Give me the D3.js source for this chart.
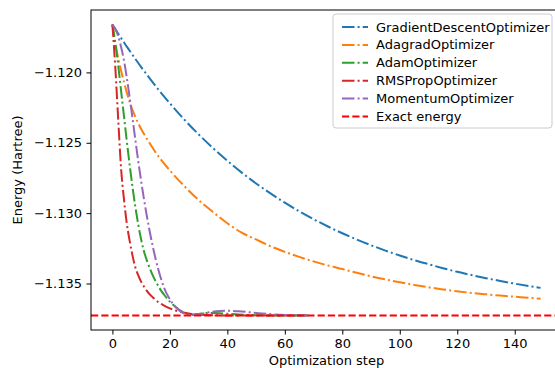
<!DOCTYPE html>
<html>
<head>
<meta charset="utf-8">
<script src="https://cdn.jsdelivr.net/npm/d3@7"></script>
<style>
  body { margin: 0; background: #fff; }
  text { font-family: "DejaVu Sans", sans-serif; }
</style>
</head>
<body>
<div id="chart"></div>
<script>
const slowSteps = [0, 1, 2, 3, 4, 5, 6, 8, 10, 12, 15, 20, 25, 30, 35, 40, 45, 50, 55, 60, 65, 70, 75, 80, 85, 90, 95, 100, 105, 110, 115, 120, 125, 130, 135, 140, 145, 149];
const fastSteps = [0, 1, 2, 3, 4, 5, 6, 7, 8, 9, 10, 11, 12, 13, 14, 15, 16, 17, 18, 20, 22, 24, 26, 28, 30, 33, 36, 40, 44, 48, 52, 56, 60, 64, 68];

const gdEnergy = [-1.11660, -1.11692, -1.11724, -1.11755, -1.11786, -1.11817, -1.11846, -1.11905, -1.11962, -1.12017, -1.12096, -1.12220, -1.12335, -1.12440, -1.12538, -1.12628, -1.12712, -1.12789, -1.12860, -1.12926, -1.12987, -1.13043, -1.13095, -1.13143, -1.13187, -1.13228, -1.13266, -1.13301, -1.13334, -1.13363, -1.13391, -1.13417, -1.13440, -1.13462, -1.13482, -1.13501, -1.13518, -1.13531];
const adagradEnergy = [-1.11660, -1.11792, -1.11897, -1.11987, -1.12067, -1.12142, -1.12212, -1.12317, -1.12402, -1.12472, -1.12567, -1.12697, -1.12807, -1.12907, -1.12992, -1.13072, -1.13139, -1.13187, -1.13235, -1.13275, -1.13311, -1.13343, -1.13372, -1.13397, -1.13424, -1.13449, -1.13471, -1.13491, -1.13510, -1.13527, -1.13542, -1.13555, -1.13567, -1.13577, -1.13586, -1.13594, -1.13602, -1.13608];
const adamEnergy = [-1.11660, -1.11787, -1.11947, -1.12127, -1.12307, -1.12487, -1.12657, -1.12817, -1.12957, -1.13082, -1.13187, -1.13272, -1.13337, -1.13392, -1.13440, -1.13482, -1.13519, -1.13552, -1.13580, -1.13629, -1.13667, -1.13697, -1.13715, -1.13721, -1.13717, -1.13709, -1.13709, -1.13715, -1.13721, -1.13724, -1.13726, -1.13727, -1.13727, -1.13727, -1.13727];
const rmspropEnergy = [-1.11660, -1.11962, -1.12327, -1.12677, -1.12897, -1.13072, -1.13197, -1.13302, -1.13387, -1.13442, -1.13487, -1.13522, -1.13552, -1.13577, -1.13597, -1.13615, -1.13632, -1.13645, -1.13657, -1.13677, -1.13692, -1.13703, -1.13712, -1.13717, -1.13721, -1.13724, -1.13726, -1.13727, -1.13727, -1.13727, -1.13727, -1.13727, -1.13727, -1.13727, -1.13727];
const momentumEnergy = [-1.11660, -1.11692, -1.11742, -1.11817, -1.11912, -1.12037, -1.12177, -1.12327, -1.12482, -1.12632, -1.12772, -1.12902, -1.13022, -1.13132, -1.13232, -1.13322, -1.13402, -1.13472, -1.13532, -1.13612, -1.13667, -1.13702, -1.13720, -1.13724, -1.13719, -1.13707, -1.13697, -1.13694, -1.13697, -1.13705, -1.13713, -1.13719, -1.13723, -1.13725, -1.13726];
const exactEnergy = -1.13727;

const xTicks = [0, 20, 40, 60, 80, 100, 120, 140];
const yTicks = [-1.120, -1.125, -1.130, -1.135];

const series = [
  { name: 'GradientDescentOptimizer', steps: slowSteps, values: gdEnergy, color: '#1f77b4' },
  { name: 'AdagradOptimizer', steps: slowSteps, values: adagradEnergy, color: '#ff7f0e' },
  { name: 'AdamOptimizer', steps: fastSteps, values: adamEnergy, color: '#2ca02c' },
  { name: 'RMSPropOptimizer', steps: fastSteps, values: rmspropEnergy, color: '#d62728' },
  { name: 'MomentumOptimizer', steps: fastSteps, values: momentumEnergy, color: '#9467bd' }
];

const margin = { top: 10, left: 91 };
const width = 471, height = 320;
const dashDot = '12.5,3.1,2,3.1';
const dashed = '7.2,3.1';

const svg = d3.select('#chart').append('svg')
  .attr('width', 555)
  .attr('height', 368);
const g = svg.append('g')
  .attr('transform', 'translate(' + margin.left + ',' + margin.top + ')');

// matplotlib-like 5% margins
const xMax = d3.max(slowSteps);
const xScale = d3.scaleLinear()
  .domain([-0.05 * xMax, xMax * 1.05])
  .range([0, width]);
const allY = series.flatMap(s => s.values).concat([exactEnergy]);
const [yLo, yHi] = d3.extent(allY);
const yPad = (yHi - yLo) * 0.05;
const yScale = d3.scaleLinear()
  .domain([yLo - yPad, yHi + yPad])
  .range([height, 0]);

const line = d3.line()
  .x(d => xScale(d[0]))
  .y(d => yScale(d[1]))
  .curve(d3.curveMonotoneX);

const plot = g.append('g');
series.forEach(s => {
  plot.append('path')
    .datum(s.steps.map((t, i) => [t, s.values[i]]))
    .attr('fill', 'none')
    .attr('stroke', s.color)
    .attr('stroke-width', 2)
    .attr('stroke-dasharray', dashDot)
    .attr('d', line);
});
plot.append('line')
  .attr('x1', 0).attr('x2', width)
  .attr('y1', yScale(exactEnergy)).attr('y2', yScale(exactEnergy))
  .attr('stroke', '#ff0000')
  .attr('stroke-width', 2)
  .attr('stroke-dasharray', dashed);

// axes
const xAxis = g.append('g')
  .attr('transform', 'translate(0,' + height + ')')
  .call(d3.axisBottom(xScale).tickValues(xTicks).tickSize(4.5).tickPadding(4.5));
const yAxis = g.append('g')
  .call(d3.axisLeft(yScale).tickValues(yTicks).tickFormat(d3.format('.3f')).tickSize(4.5).tickPadding(4.5));
[xAxis, yAxis].forEach(a => {
  a.select('.domain').remove();
  a.selectAll('text').attr('font-size', 13).attr('fill', '#000').attr('font-family', '"DejaVu Sans", sans-serif');
  a.selectAll('line').attr('stroke', '#000').attr('stroke-width', 1);
});

g.append('rect')
  .attr('x', 0).attr('y', 0)
  .attr('width', width).attr('height', height)
  .attr('fill', 'none')
  .attr('stroke', '#000')
  .attr('stroke-width', 1);

svg.append('text')
  .attr('x', margin.left + width / 2)
  .attr('y', 365)
  .attr('text-anchor', 'middle')
  .attr('font-size', 13)
  .text('Optimization step');
svg.append('text')
  .attr('transform', 'translate(22,' + (margin.top + height / 2) + ') rotate(-90)')
  .attr('text-anchor', 'middle')
  .attr('font-size', 13)
  .text('Energy (Hartree)');

// legend
const legend = svg.append('g').attr('transform', 'translate(333,14)');
legend.append('rect')
  .attr('width', 219).attr('height', 114)
  .attr('rx', 3)
  .attr('fill', '#fff').attr('fill-opacity', 0.8)
  .attr('stroke', '#cccccc');
const items = series.map(s => ({ name: s.name, color: s.color, dash: dashDot }))
  .concat([{ name: 'Exact energy', color: '#ff0000', dash: dashed }]);
items.forEach((it, i) => {
  const y = 13 + i * 17.9;
  legend.append('line')
    .attr('x1', 9).attr('x2', 35)
    .attr('y1', y).attr('y2', y)
    .attr('stroke', it.color)
    .attr('stroke-width', 2)
    .attr('stroke-dasharray', it.dash);
  legend.append('text')
    .attr('x', 43).attr('y', y)
    .attr('dy', '0.35em')
    .attr('font-size', 13)
    .text(it.name);
});
</script>
</body>
</html>
